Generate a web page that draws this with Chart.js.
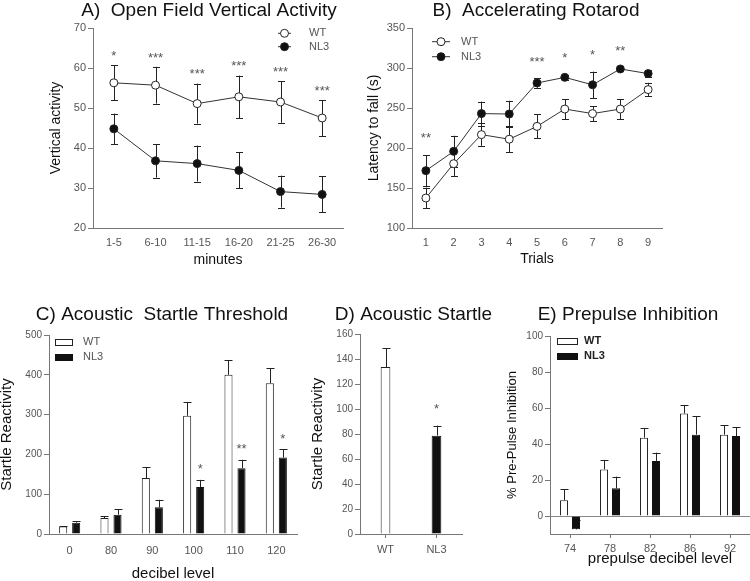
<!DOCTYPE html>
<html>
<head>
<meta charset="utf-8">
<script src="https://cdn.jsdelivr.net/npm/chart.js@4.4.0/dist/chart.umd.min.js"></script>
<style>
  body { margin: 0; background: #fff; width: 750px; height: 581px; position: relative; overflow: hidden; }
  canvas { position: absolute; }
</style>
</head>
<body>
<canvas id="chartA" width="355" height="290" style="left:0;top:0"></canvas>
<canvas id="chartB" width="395" height="290" style="left:355px;top:0"></canvas>
<canvas id="chartC" width="310" height="301" style="left:-10px;top:290px"></canvas>
<canvas id="chartD" width="200" height="301" style="left:300px;top:290px"></canvas>
<canvas id="chartE" width="270" height="301" style="left:480px;top:290px"></canvas>
<script>
// A) open field, vertical activity per 5 min bin
const minuteBins = ['1-5', '6-10', '11-15', '16-20', '21-25', '26-30']
const openWT = [56.3, 55.7, 51.1, 52.8, 51.5, 47.5]
const openWTErr = [4.4, 4.6, 5.0, 5.3, 5.2, 4.5]
const openNL3 = [44.8, 36.8, 36.1, 34.4, 29.1, 28.4]
const openNL3Err = [3.8, 4.2, 4.5, 4.5, 4.0, 4.5]
const openStars = ['*', '***', '***', '***', '***', '***']

// B) accelerating rotarod
const trials = ['1', '2', '3', '4', '5', '6', '7', '8', '9']
const rotaWT = [137.5, 180.4, 216.7, 211, 227, 248.7, 243, 248.7, 273]
const rotaWTErr = [13, 15.4, 14, 16, 15, 12.5, 9.5, 12.5, 8.5]
const rotaNL3 = [171.7, 195.8, 243, 242.5, 281.3, 288.3, 279, 298.8, 293]
const rotaNL3Err = [19.5, 19.5, 15, 16.5, 6, 3, 16.5, 2, 4]
const rotaStars = ['**', '', '', '', '***', '*', '*', '**', '']

// C) acoustic startle threshold
const dbLevels = ['0', '80', '90', '100', '110', '120']
const thrWT = [19, 40, 140.5, 297, 400, 379]
const thrWTErr = [1, 4, 27.5, 34, 36, 37]
const thrNL3 = [28.4, 48.5, 67, 118, 165.5, 192]
const thrNL3Err = [3.4, 14.2, 19, 18, 21, 21]
const thrStars = ['', '', '', '*', '**', '*']

// D) acoustic startle
const genotypes = ['WT', 'NL3']
const startle = [133.6, 78.7]
const startleErr = [15, 8]
const startleStars = ['', '*']

// E) prepulse inhibition
const prepulseLevels = ['74', '78', '82', '86', '92']
const ppiWT = [8.7, 25.9, 43.5, 56.9, 45.2]
const ppiWTErr = [6.1, 5, 5.2, 4.8, 5.2]
const ppiNL3 = [-7.4, 15.4, 30.6, 45.2, 44.4]
const ppiNL3Err = [5, 6.5, 4.6, 10.2, 5]

const FONT = "'Liberation Sans', Arial, sans-serif"
const AXIS = '#777'
const TICK = '#555'
const INK = '#222'

Chart.defaults.font.family = FONT
Chart.defaults.color = TICK
Chart.defaults.animation = false
Chart.defaults.responsive = false
Chart.defaults.devicePixelRatio = 1
Chart.defaults.plugins.legend.display = false
Chart.defaults.plugins.tooltip.enabled = false

// whiskers: both ways for points, upward only for bars (drawn before the marks)
const errorBars = {
    id: 'errorBars',
    beforeDatasetsDraw(chart, args, opts) {
        const ctx = chart.ctx
        const y = chart.scales.y
        ctx.save()
        ctx.strokeStyle = INK
        ctx.lineWidth = 1
        chart.data.datasets.forEach((ds, i) => {
            if (!ds.errors) return
            chart.getDatasetMeta(i).data.forEach((el, j) => {
                const v = ds.data[j], e = ds.errors[j]
                if (!e) return
                const x = Math.round(el.x) + 0.5
                const top = y.getPixelForValue(v + e)
                const bot = opts.both ? y.getPixelForValue(v - e) : y.getPixelForValue(v)
                ctx.beginPath()
                ctx.moveTo(x, top)
                ctx.lineTo(x, bot)
                ctx.moveTo(x - opts.cap, Math.round(top) + 0.5)
                ctx.lineTo(x + opts.cap, Math.round(top) + 0.5)
                if (opts.both) {
                    ctx.moveTo(x - opts.cap, Math.round(bot) + 0.5)
                    ctx.lineTo(x + opts.cap, Math.round(bot) + 0.5)
                }
                ctx.stroke()
            })
        })
        ctx.restore()
    }
}

// significance asterisks above the error bars
const sigStars = {
    id: 'sigStars',
    afterDatasetsDraw(chart, args, opts) {
        const ctx = chart.ctx
        const y = chart.scales.y
        const ds = chart.data.datasets
        const size = opts.size || 13
        ctx.save()
        ctx.fillStyle = TICK
        ctx.font = size + 'px ' + FONT
        ctx.textAlign = 'center'
        ctx.textBaseline = 'alphabetic'
        opts.labels.forEach((lab, j) => {
            if (!lab) return
            let top = Infinity
            opts.ref.forEach(i => {
                const e = ds[i].errors ? ds[i].errors[j] : 0
                top = Math.min(top, y.getPixelForValue(ds[i].data[j] + e))
            })
            const el = chart.getDatasetMeta(opts.ref[opts.ref.length - 1]).data[j]
            ctx.fillText(lab, el.x, top - opts.gap + size * 0.57)
        })
        ctx.restore()
    }
}

// panel titles and free text
const panelText = {
    id: 'panelText',
    afterDraw(chart, args, opts) {
        const ctx = chart.ctx
        ctx.save()
        opts.items.forEach(t => {
            ctx.fillStyle = t.color || '#111'
            ctx.font = (t.weight || 'normal') + ' ' + t.size + 'px ' + FONT
            ctx.textAlign = 'center'
            ctx.textBaseline = t.baseline || 'alphabetic'
            ctx.fillText(t.text, t.x, t.y)
        })
        ctx.restore()
    }
}

// small legend inside the plot
const panelLegend = {
    id: 'panelLegend',
    afterDraw(chart, args, opts) {
        const ctx = chart.ctx
        ctx.save()
        ctx.font = (opts.weight || 'normal') + ' ' + opts.size + 'px ' + FONT
        ctx.textBaseline = 'middle'
        ctx.textAlign = 'left'
        chart.data.datasets.forEach((ds, i) => {
            const yy = opts.y + i * opts.step
            ctx.lineWidth = 1
            if (chart.config.type === 'line') {
                ctx.strokeStyle = ds.borderColor
                ctx.beginPath()
                ctx.moveTo(opts.x, yy)
                ctx.lineTo(opts.x + opts.w, yy)
                ctx.stroke()
                ctx.beginPath()
                ctx.arc(opts.x + opts.w / 2, yy, ds.pointRadius, 0, Math.PI * 2)
                ctx.fillStyle = ds.pointBackgroundColor
                ctx.fill()
                ctx.strokeStyle = ds.pointBorderColor
                ctx.stroke()
            } else {
                ctx.fillStyle = ds.backgroundColor
                ctx.fillRect(opts.x, yy - opts.h / 2, opts.w, opts.h)
                ctx.strokeStyle = ds.borderColor
                ctx.strokeRect(opts.x + 0.5, Math.round(yy - opts.h / 2) + 0.5, opts.w, opts.h)
            }
            ctx.fillStyle = opts.color
            ctx.fillText(ds.label, opts.textX, yy)
        })
        ctx.restore()
    }
}

function yAxis(o) {
    return {
        min: o.min,
        max: o.max,
        afterFit: s => { s.width = o.width },
        border: {color: AXIS},
        grid: {
            drawOnChartArea: !!o.zeroLine,
            color: o.zeroLine ? c => (c.tick && c.tick.value === 0 ? '#888' : 'rgba(0,0,0,0)') : AXIS,
            tickColor: AXIS,
            tickLength: 5
        },
        ticks: {stepSize: o.step, includeBounds: false, padding: 2, color: TICK, font: {size: o.tickSize}},
        title: {display: true, text: o.title, color: '#111', font: {size: o.titleSize}, padding: {top: o.titlePad, bottom: 0}}
    }
}

function xAxis(o) {
    return {
        offset: true,
        afterFit: s => { s.height = o.height },
        border: {color: AXIS},
        grid: {drawOnChartArea: false, offset: false, drawTicks: !!o.tickLen, tickLength: o.tickLen || 0, color: AXIS},
        ticks: {padding: o.pad, color: TICK, font: {size: o.tickSize}, maxRotation: 0, autoSkip: false},
        title: {display: !!o.title, text: o.title || '', color: '#111', font: {size: o.titleSize}, padding: {top: 0, bottom: o.titlePad}}
    }
}

function lineSet(label, data, errors, fill) {
    return {
        label, data, errors,
        borderColor: '#333', borderWidth: 1,
        pointRadius: 4, pointBorderWidth: 1,
        pointBackgroundColor: fill, pointBorderColor: INK
    }
}

function barSet(label, data, errors, fill) {
    return {
        label, data, errors,
        backgroundColor: fill, borderColor: fill === '#fff' ? INK : '#111', borderWidth: 1,
        categoryPercentage: 0.63, barPercentage: 0.62
    }
}

new Chart(document.getElementById('chartA'), {
    type: 'line',
    data: {
        labels: minuteBins,
        datasets: [lineSet('WT', openWT, openWTErr, '#fff'), lineSet('NL3', openNL3, openNL3Err, '#111')]
    },
    options: {
        layout: {padding: {left: 0, top: 28, right: 12, bottom: 0}},
        scales: {
            x: xAxis({height: 62, pad: 8, tickSize: 11, title: 'minutes', titleSize: 14, titlePad: 21.6}),
            y: yAxis({min: 20, max: 70, step: 10, width: 93, tickSize: 11, title: 'Vertical activity', titleSize: 14, titlePad: 47.6})
        },
        plugins: {
            errorBars: {both: true, cap: 3.5},
            sigStars: {labels: openStars, ref: [0, 1], gap: 12.7},
            panelText: {items: [{text: 'A)  Open Field Vertical Activity', x: 209, y: 15.5, size: 19}]},
            panelLegend: {x: 278, y: 33.3, step: 13.4, w: 13, textX: 309, size: 11, color: TICK}
        }
    },
    plugins: [errorBars, sigStars, panelText, panelLegend]
})

new Chart(document.getElementById('chartB'), {
    type: 'line',
    data: {
        labels: trials,
        datasets: [lineSet('WT', rotaWT, rotaWTErr, '#fff'), lineSet('NL3', rotaNL3, rotaNL3Err, '#111')]
    },
    options: {
        layout: {padding: {left: 0, top: 28, right: 88, bottom: 0}},
        scales: {
            x: xAxis({height: 62, pad: 8, tickSize: 11, title: 'Trials', titleSize: 14, titlePad: 22.6}),
            y: yAxis({min: 100, max: 350, step: 50, width: 57, tickSize: 11, title: 'Latency to fall (s)', titleSize: 14, titlePad: 10.6})
        },
        plugins: {
            errorBars: {both: true, cap: 3.5},
            sigStars: {labels: rotaStars, ref: [0, 1], gap: 20},
            panelText: {items: [{text: 'B)  Accelerating Rotarod', x: 181, y: 15.5, size: 19}]},
            panelLegend: {x: 77, y: 41.7, step: 15, w: 18, textX: 106, size: 11, color: TICK}
        }
    },
    plugins: [errorBars, sigStars, panelText, panelLegend]
})

new Chart(document.getElementById('chartC'), {
    type: 'bar',
    data: {
        labels: dbLevels,
        datasets: [barSet('WT', thrWT, thrWTErr, '#fff'), barSet('NL3', thrNL3, thrNL3Err, '#111')]
    },
    options: {
        layout: {padding: {left: 0, top: 45, right: 3, bottom: 0}},
        scales: {
            x: xAxis({height: 57, pad: 10, tickSize: 11, title: 'decibel level', titleSize: 15, titlePad: 8}),
            y: yAxis({min: 0, max: 500, step: 100, width: 59, tickSize: 10, title: 'Startle Reactivity', titleSize: 15, titlePad: 7.5})
        },
        plugins: {
            errorBars: {both: false, cap: 4},
            sigStars: {labels: thrStars, ref: [1], gap: 14},
            panelText: {items: [{text: 'C) Acoustic  Startle Threshold', x: 172, y: 30, size: 19}]},
            panelLegend: {x: 65, y: 52, step: 15, w: 17, h: 6, textX: 93, size: 11, color: TICK}
        }
    },
    plugins: [errorBars, sigStars, panelText, panelLegend]
})

new Chart(document.getElementById('chartD'), {
    type: 'bar',
    data: {
        labels: genotypes,
        datasets: [{
            label: 'Startle', data: startle, errors: startleErr,
            backgroundColor: ['#fff', '#111'], borderColor: [INK, '#111'], borderWidth: 1,
            categoryPercentage: 1, barPercentage: 0.19
        }]
    },
    options: {
        layout: {padding: {left: 0, top: 44, right: 38, bottom: 0}},
        scales: {
            x: xAxis({height: 57, pad: 5, tickLen: 4, tickSize: 11}),
            y: yAxis({min: 0, max: 160, step: 20, width: 60, tickSize: 10, title: 'Startle Reactivity', titleSize: 15, titlePad: 9})
        },
        plugins: {
            errorBars: {both: false, cap: 4},
            sigStars: {labels: startleStars, ref: [0], gap: 20},
            panelText: {items: [{text: 'D) Acoustic Startle', x: 113.5, y: 30, size: 19}]}
        }
    },
    plugins: [errorBars, sigStars, panelText]
})

new Chart(document.getElementById('chartE'), {
    type: 'bar',
    data: {
        labels: prepulseLevels,
        datasets: [barSet('WT', ppiWT, ppiWTErr, '#fff'), barSet('NL3', ppiNL3, ppiNL3Err, '#111')].map(d => {
            d.categoryPercentage = 0.6
            d.barPercentage = 0.67
            return d
        })
    },
    options: {
        layout: {padding: {left: 0, top: 46, right: 0, bottom: 0}},
        scales: {
            x: xAxis({height: 57, pad: 4, tickLen: 4, tickSize: 11}),
            y: yAxis({min: -10, max: 100, step: 20, width: 70, tickSize: 10, title: '% Pre-Pulse Inhibition', titleSize: 13, titlePad: 24.2, zeroLine: true})
        },
        plugins: {
            errorBars: {both: false, cap: 4},
            panelText: {items: [
                {text: 'E) Prepulse Inhibition', x: 148, y: 30, size: 19},
                {text: 'prepulse decibel level', x: 180, y: 273, size: 15}
            ]},
            panelLegend: {x: 77, y: 51, step: 15, w: 20, h: 6, textX: 104, size: 11, weight: 'bold', color: INK}
        }
    },
    plugins: [errorBars, panelText, panelLegend]
})
</script>
</body>
</html>
